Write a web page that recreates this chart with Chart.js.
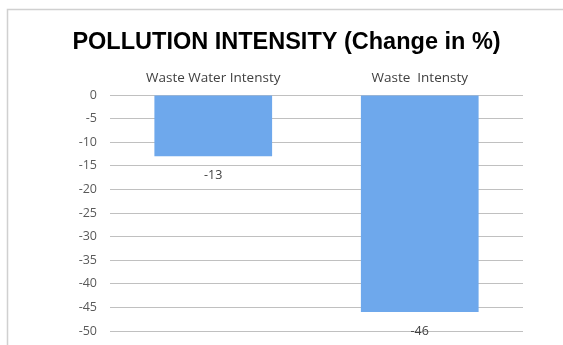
<!DOCTYPE html>
<html>
<head>
<meta charset="utf-8">
<script src="https://cdn.jsdelivr.net/npm/chart.js@4.4.1/dist/chart.umd.min.js"></script>
<style>
  html, body { margin: 0; padding: 0; background: #ffffff; }
  #wrap { width: 563px; height: 345px; position: relative; }
</style>
</head>
<body>
<div id="wrap"><canvas id="c" width="563" height="345"></canvas></div>
<script>
// Chart data
const categories = ['Waste Water Intensty', 'Waste  Intensty'];
const changePct = [-13, -46];
const yTicks = [0, -5, -10, -15, -20, -25, -30, -35, -40, -45, -50];

const labelFont = '"Open Sans", "DejaVu Sans", sans-serif';

// Frame around the chart and value labels under each bar
const framePlugin = {
  id: 'frame',
  beforeDraw(chart) {
    const ctx = chart.ctx;
    ctx.save();
    ctx.fillStyle = '#ffffff';
    ctx.fillRect(0, 0, chart.width, chart.height);
    ctx.strokeStyle = '#d0d0d0';
    ctx.lineWidth = 1.5;
    ctx.strokeRect(7.5, 9.5, chart.width + 20, chart.height + 20);
    ctx.restore();
  }
};

const valueLabels = {
  id: 'valueLabels',
  afterDatasetsDraw(chart) {
    const ctx = chart.ctx;
    const meta = chart.getDatasetMeta(0);
    ctx.save();
    ctx.font = '12.5px ' + labelFont;
    ctx.fillStyle = '#404040';
    ctx.textAlign = 'center';
    ctx.textBaseline = 'middle';
    meta.data.forEach((bar, i) => {
      ctx.fillText(String(chart.data.datasets[0].data[i]), bar.x, bar.y + 19);
    });
    ctx.restore();
  }
};

new Chart(document.getElementById('c'), {
  type: 'bar',
  data: {
    labels: categories,
    datasets: [{
      data: changePct,
      backgroundColor: '#6EA8EC',
      borderWidth: 0,
      categoryPercentage: 1,
      barPercentage: 0.57
    }]
  },
  plugins: [framePlugin, valueLabels],
  options: {
    responsive: false,
    animation: false,
    layout: { padding: { left: 10, top: 0, right: 0, bottom: 14 } },
    plugins: {
      legend: { display: false },
      tooltip: { enabled: false },
      title: {
        display: true,
        text: 'POLLUTION INTENSITY (Change in %)',
        color: '#000000',
        font: { family: '"Liberation Sans", Arial, sans-serif', size: 23.5, weight: 'bold' },
        padding: { top: 28, bottom: 8 }
      }
    },
    scales: {
      x: {
        position: 'top',
        grid: { display: false, drawTicks: false },
        border: { display: false },
        ticks: {
          color: '#404040',
          font: { family: labelFont, size: 13.5 },
          padding: 9,
          maxRotation: 0
        },
        afterFit(s) { s.height = 95 - 64.2; }
      },
      y: {
        min: -50,
        max: 0,
        afterBuildTicks(s) { s.ticks = yTicks.map(v => ({ value: v })); },
        grid: { color: '#c0c0c0', lineWidth: 1, drawTicks: false },
        border: { display: false },
        ticks: {
          color: '#595959',
          font: { family: labelFont, size: 12.5 },
          padding: 13
        },
        afterFit(s) { s.width = 100; s.paddingTop = 0; s.paddingBottom = 0; }
      },
      // empty right-hand margin beside the plot
      yRight: {
        position: 'right',
        min: -50,
        max: 0,
        grid: { display: false, drawTicks: false },
        border: { display: false },
        ticks: { display: false },
        afterFit(s) { s.width = 40; s.paddingTop = 0; s.paddingBottom = 0; }
      }
    }
  }
});
</script>
</body>
</html>
